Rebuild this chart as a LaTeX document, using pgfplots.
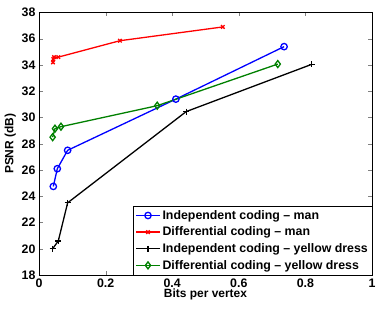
\documentclass[border=0pt]{standalone}
\usepackage{fontspec}
\setmainfont{Liberation Sans}[BoldFont={Liberation Sans Bold}]
\usepackage{pgfplots}
\pgfplotsset{compat=1.18}
\definecolor{mgreen}{rgb}{0,0.5,0}
\begin{document}
\begin{tikzpicture}
\useasboundingbox (-39bp,-35bp) rectangle (343bp,275bp);
\begin{axis}[
  scale only axis, width=333bp, height=262.5bp,
  xmin=0, xmax=1, ymin=18, ymax=38,
  xtick={0,0.2,0.4,0.6,0.8,1}, ytick={18,20,...,38},
  xticklabels={\textbf{0},\textbf{0.2},\textbf{0.4},\textbf{0.6},\textbf{0.8},\textbf{1}},
  yticklabels={\textbf{18},\textbf{20},\textbf{22},\textbf{24},\textbf{26},\textbf{28},\textbf{30},\textbf{32},\textbf{34},\textbf{36},\textbf{38}},
  tick align=inside, tick pos=both,
  major tick length=4bp,
  tick label style={font=\fontsize{12.4}{13}\selectfont\bfseries},
  xlabel={\textbf{Bits per vertex}}, ylabel={\textbf{PSNR (dB)}},
  label style={font=\fontsize{12}{13}\selectfont\bfseries},
  xlabel style={yshift=5bp},
  ylabel style={yshift=-1bp},
  legend style={at={(1,0)}, anchor=south east, font=\fontsize{12.4}{14}\selectfont\bfseries, draw=black, inner xsep=2bp, inner ysep=2.2bp, row sep=2.2bp},
  legend cell align=left,
  legend image code/.code={\draw[mark repeat=2,mark phase=2,#1] plot coordinates {(0cm,0cm) (0.42cm,0cm) (0.84cm,0cm)};},
  every axis plot/.append style={line width=1.3bp},
]
\addplot[blue, mark=o, mark size=3.2bp, mark options={solid}] coordinates {
(0.043,24.75) (0.055,26.1) (0.086,27.5) (0.411,31.4) (0.736,35.4)};
\addlegendentry{Independent coding -- man}
\addplot[red, mark=x, mark size=2.5bp] coordinates {
(0.042,34.2) (0.043,34.45) (0.045,34.6) (0.058,34.6) (0.243,35.85) (0.552,36.9)};
\addlegendentry{Differential coding -- man}
\addplot[black, mark=+, mark size=3bp] coordinates {
(0.041,20.0) (0.058,20.6) (0.086,23.5) (0.442,30.45) (0.819,34.05)};
\addlegendentry{Independent coding -- yellow dress}
\addplot[mgreen, mark=diamond, mark size=3.5bp] coordinates {
(0.041,28.5) (0.048,29.15) (0.066,29.3) (0.355,30.9) (0.717,34.07)};
\addlegendentry{Differential coding -- yellow dress}
\end{axis}
\end{tikzpicture}
\end{document}
